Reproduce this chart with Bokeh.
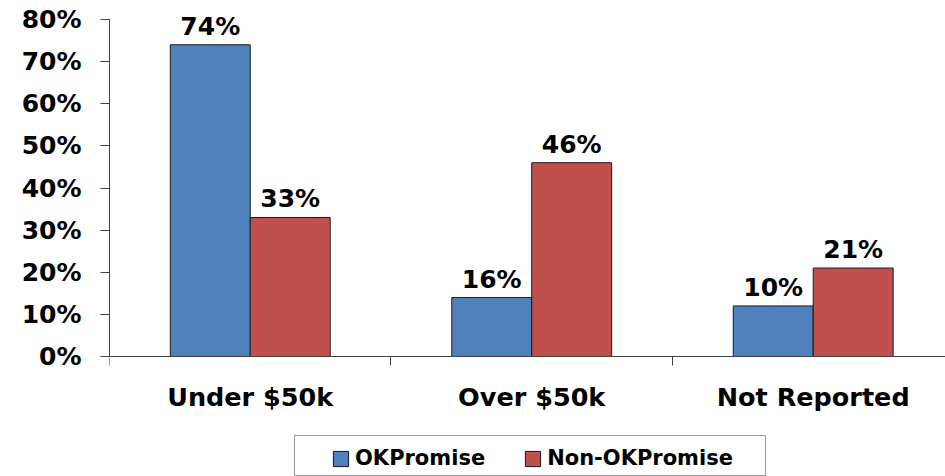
from bokeh.plotting import figure
from bokeh.models import (Range1d, FixedTicker, Legend, LegendItem,
                          ColumnDataSource, LabelSet)
from bokeh.core.properties import value
from bokeh.embed import file_html
from bokeh.resources import INLINE

# ---- data ----
categories = ["Under $50k", "Over $50k", "Not Reported"]
series_names = ["OKPromise", "Non-OKPromise"]
okpromise = [74, 14, 12]
non_okpromise = [33, 46, 21]
okpromise_labels = ["74%", "16%", "10%"]
non_okpromise_labels = ["33%", "46%", "21%"]
y_ticks = [0, 10, 20, 30, 40, 50, 60, 70, 80]
y_tick_labels = ["0%", "10%", "20%", "30%", "40%", "50%", "60%", "70%", "80%"]

BLUE = "#4F81BD"
RED = "#C0504D"
FONT = "DejaVu Sans"

centers = [i + 0.5 for i in range(len(categories))]
bar_w = 0.284
half = bar_w / 2

p = figure(width=945, height=476,
           x_range=Range1d(0, 2.97), y_range=Range1d(-28.48, 84.51),
           output_backend="svg", toolbar_location=None,
           min_border_left=109, min_border_right=0,
           min_border_top=0, min_border_bottom=0)
p.xgrid.visible = False
p.ygrid.visible = False
p.outline_line_color = None
p.background_fill_color = "white"

src_ok = ColumnDataSource(dict(x=[c - half for c in centers], top=okpromise,
                               lab=okpromise_labels))
src_non = ColumnDataSource(dict(x=[c + half for c in centers], top=non_okpromise,
                                lab=non_okpromise_labels))

r_ok = p.vbar(x="x", top="top", bottom=0, width=bar_w, source=src_ok,
              fill_color=BLUE, line_color="#1a1a1a", line_width=1)
r_non = p.vbar(x="x", top="top", bottom=0, width=bar_w, source=src_non,
               fill_color=RED, line_color="#1a1a1a", line_width=1)

for src in (src_ok, src_non):
    p.add_layout(LabelSet(x="x", y="top", text="lab", source=src,
                          y_offset=10, text_align="center",
                          text_baseline="alphabetic", text_font=value(FONT),
                          text_font_style="bold", text_font_size="25px",
                          text_color="black"))

# x axis (sits at y = 0 inside the frame)
xa = p.xaxis[0]
xa.fixed_location = 0
xa.ticker = FixedTicker(ticks=centers, minor_ticks=[0, 1, 2, 3])
xa.major_label_overrides = {c: n for c, n in zip(centers, categories)}
xa.axis_line_color = "#404040"
xa.axis_line_width = 1
xa.major_tick_line_color = None
xa.major_tick_out = 0
xa.major_tick_in = 0
xa.minor_tick_line_color = "#404040"
xa.minor_tick_out = 9
xa.minor_tick_in = 0
xa.major_label_standoff = 16
xa.major_label_text_font = FONT
xa.major_label_text_font_style = "bold"
xa.major_label_text_font_size = "25.5px"
xa.major_label_text_color = "black"

# y axis
ya = p.yaxis[0]
ya.bounds = (0, 80)
ya.ticker = FixedTicker(ticks=y_ticks, minor_ticks=[])
ya.major_label_overrides = {t: l for t, l in zip(y_ticks, y_tick_labels)}
ya.axis_line_color = "#404040"
ya.major_tick_line_color = "#404040"
ya.major_tick_out = 9
ya.major_tick_in = 0
ya.minor_tick_line_color = None
ya.major_label_standoff = 19
ya.major_label_text_font = FONT
ya.major_label_text_font_style = "bold"
ya.major_label_text_font_size = "25px"
ya.major_label_text_color = "black"

# legend box (frame only)
dummy = p.vbar(x=[], top=[], width=0.1, fill_alpha=0, line_alpha=0)
box = Legend(items=[LegendItem(label=" ", renderers=[dummy])],
             location=(185, 0), orientation="horizontal",
             padding=10, glyph_width=19, glyph_height=19, label_standoff=5,
             label_width=426, label_text_font_size="21px",
             label_text_alpha=0, border_line_color="#333333",
             border_line_width=1.5, background_fill_color="white",
             background_fill_alpha=1, margin=0)
p.add_layout(box, "center")

# legend content
leg = Legend(items=[LegendItem(label=series_names[0], renderers=[r_ok]),
                    LegendItem(label=series_names[1], renderers=[r_non])],
             location=(222, 6), orientation="horizontal",
             padding=10, spacing=38, glyph_width=19, glyph_height=19,
             label_standoff=5, label_text_font=FONT,
             label_text_font_style="bold", label_text_font_size="21px",
             label_text_color="black", border_line_color=None,
             background_fill_alpha=0, margin=0)
p.add_layout(leg, "center")

open("out.html", "w").write(file_html(p, INLINE))
